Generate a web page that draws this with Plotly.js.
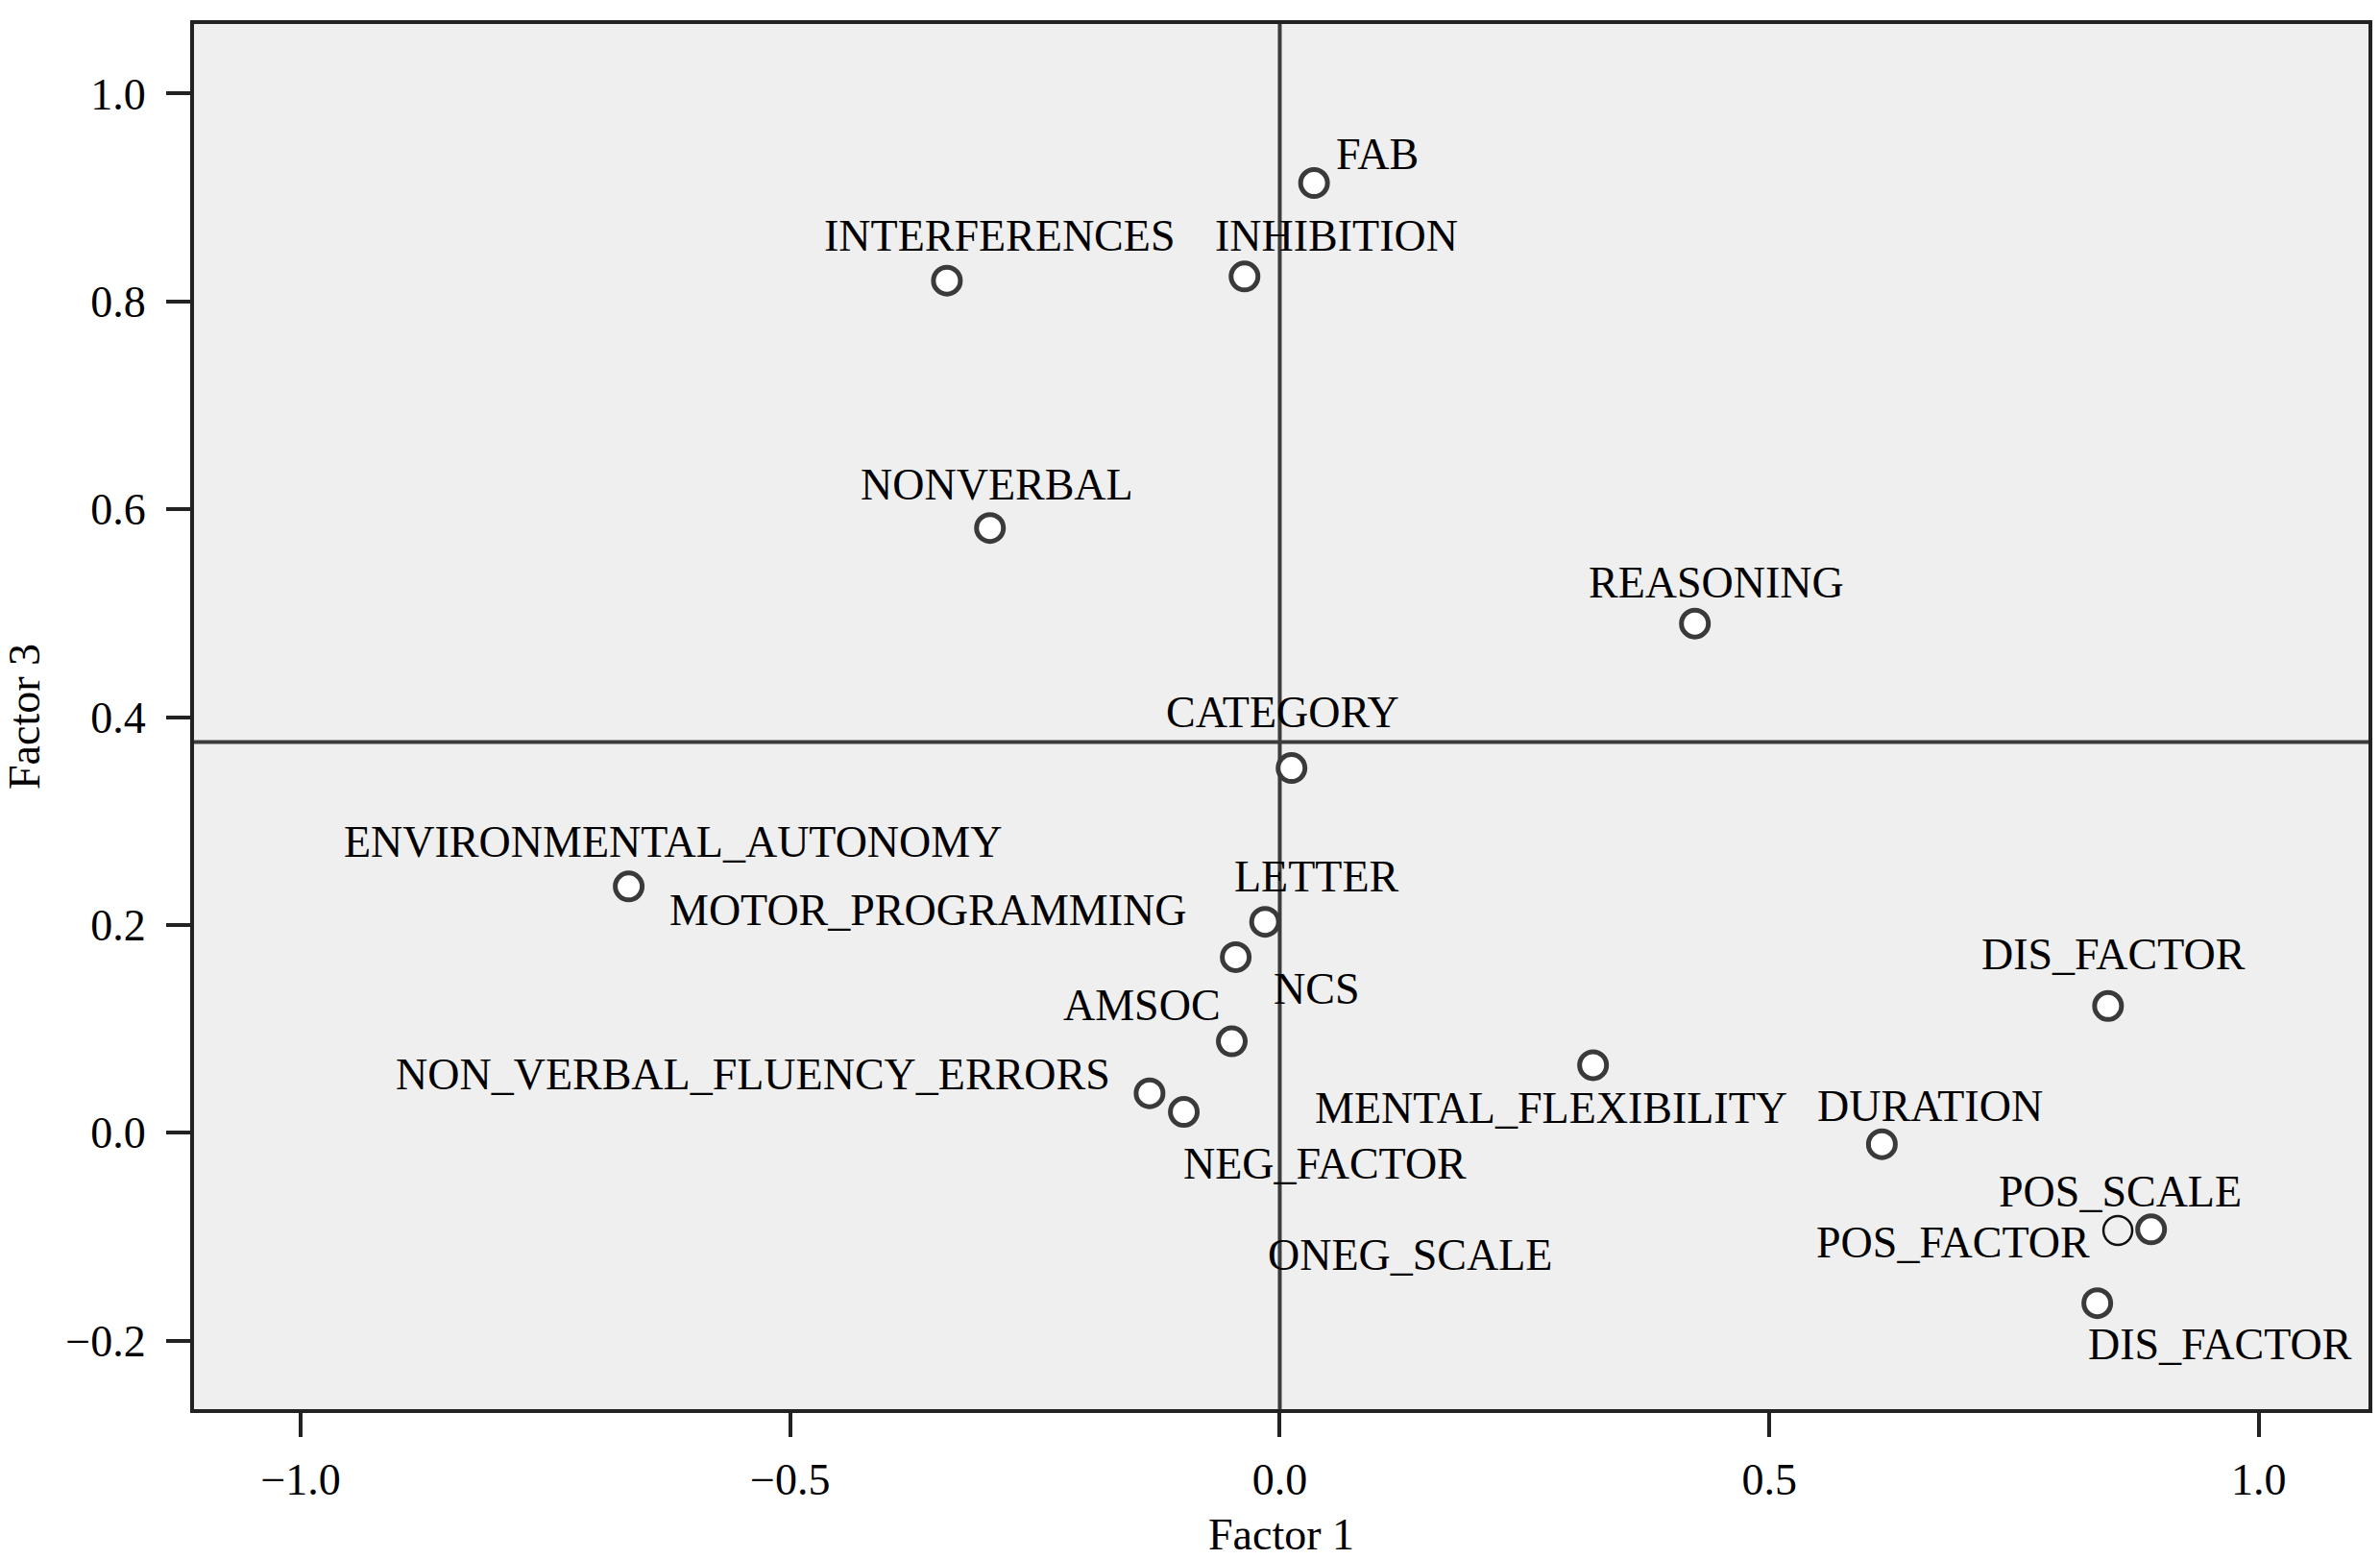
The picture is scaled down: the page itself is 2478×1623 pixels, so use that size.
<!DOCTYPE html>
<html>
<head>
<meta charset="utf-8">
<script src="https://cdn.plot.ly/plotly-3.0.1.min.js"></script>
<style>html,body{margin:0;padding:0;background:#fff;}#chart{width:2478px;height:1623px;}</style>
</head>
<body>
<div id="chart"></div>
<script>
// ---- Data ----
const variableNames = ["FAB","INHIBITION","INTERFERENCES","NONVERBAL","REASONING","CATEGORY",
  "ENVIRONMENTAL_AUTONOMY","LETTER","MOTOR_PROGRAMMING","AMSOC","NON_VERBAL_FLUENCY_ERRORS",
  "NEG_FACTOR","MENTAL_FLEXIBILITY","DURATION","DIS_FACTOR","POS_SCALE","DIS_FACTOR"];
const factor1 = [0.035,-0.036,-0.340,-0.296,0.424,0.012,-0.665,-0.015,-0.045,-0.049,-0.133,-0.098,0.320,0.615,0.846,0.890,0.835];
const factor3 = [0.914,0.824,0.820,0.582,0.490,0.351,0.237,0.203,0.169,0.088,0.038,0.020,0.065,-0.011,0.122,-0.093,-0.164];

// thin-outlined point (POS_FACTOR)
const thinNames = ["POS_FACTOR"];
const thinFactor1 = [0.856];
const thinFactor3 = [-0.094];

// point labels as shown in the chart
const labelTexts = ["FAB","INTERFERENCES","INHIBITION","NONVERBAL","REASONING","CATEGORY",
  "ENVIRONMENTAL_AUTONOMY","LETTER","MOTOR_PROGRAMMING","NCS","AMSOC","NON_VERBAL_FLUENCY_ERRORS",
  "MENTAL_FLEXIBILITY","DURATION","NEG_FACTOR","DIS_FACTOR","POS_SCALE","POS_FACTOR","ONEG_SCALE","DIS_FACTOR"];

// reference lines
const refFactor1 = 0.0;
const refFactor3 = 0.376;

const xTickVals = [-1.0,-0.5,0.0,0.5,1.0];
const yTickVals = [-0.2,0.0,0.2,0.4,0.6,0.8,1.0];

// ---- Label placement (layout only, data coordinates of label centres) ----
const labelPlacement = [
  [0.100,0.942],[-0.286,0.863],[0.058,0.863],[-0.289,0.624],[0.446,0.529],[0.003,0.405],
  [-0.620,0.280],[0.037,0.247],[-0.360,0.214],[0.037,0.138],[-0.141,0.123],[-0.538,0.056],
  [0.277,0.024],[0.664,0.026],[0.046,-0.030],[0.852,0.172],[0.858,-0.057],[0.688,-0.106],
  [0.133,-0.118],[0.960,-0.204]
];

const FONT = "Liberation Serif, Times New Roman, serif";
const FS = 46;

const traces = [
  {
    type: "scatter", mode: "markers", x: factor1, y: factor3, text: variableNames,
    hoverinfo: "text", cliponaxis: false,
    marker: {symbol: "circle", size: 28, color: "#ffffff", line: {color: "#3a3a3a", width: 5}}
  },
  {
    type: "scatter", mode: "markers", x: thinFactor1, y: thinFactor3, text: thinNames,
    hoverinfo: "text", cliponaxis: false,
    marker: {symbol: "circle-open", size: 30, color: "#111111", line: {color: "#111111", width: 2.5}}
  }
];

const annotations = labelTexts.map((t, i) => ({
  x: labelPlacement[i][0], y: labelPlacement[i][1], xref: "x", yref: "y",
  text: t, showarrow: false, xanchor: "center", yanchor: "middle",
  font: {family: FONT, size: FS, color: "#000"}
}));

const layout = {
  width: 2478, height: 1623,
  margin: {l: 202, r: 12, t: 25, b: 156, pad: 0},
  paper_bgcolor: "#ffffff",
  plot_bgcolor: "#efefef",
  showlegend: false,
  font: {family: FONT, size: FS, color: "#000"},
  xaxis: {
    range: [-1.109, 1.112], tickvals: xTickVals, tickformat: ".1f",
    showgrid: false, zeroline: false,
    showline: true, mirror: true, linecolor: "#222", linewidth: 4,
    ticks: "outside", ticklen: 25, tickwidth: 4, tickcolor: "#222",
    ticklabelstandoff: 5,
    tickfont: {family: FONT, size: FS, color: "#000"},
    title: {text: "Factor 1", font: {family: FONT, size: FS, color: "#000"}, standoff: 26}
  },
  yaxis: {
    range: [-0.266, 1.067], tickvals: yTickVals, tickformat: ".1f",
    showgrid: false, zeroline: false,
    showline: true, mirror: true, linecolor: "#222", linewidth: 4,
    ticks: "outside", ticklen: 25, tickwidth: 4, tickcolor: "#222",
    ticklabelstandoff: 12,
    tickfont: {family: FONT, size: FS, color: "#000"},
    title: {text: "Factor 3", font: {family: FONT, size: FS, color: "#000"}, standoff: 42}
  },
  shapes: [
    {type: "line", xref: "x", yref: "paper", x0: refFactor1, x1: refFactor1, y0: 0, y1: 1,
     line: {color: "#3c3c3c", width: 4}, layer: "below"},
    {type: "line", xref: "paper", yref: "y", x0: 0, x1: 1, y0: refFactor3, y1: refFactor3,
     line: {color: "#3c3c3c", width: 4}, layer: "below"}
  ],
  annotations: annotations
};

Plotly.newPlot("chart", traces, layout, {displayModeBar: false, staticPlot: true});
</script>
</body>
</html>
